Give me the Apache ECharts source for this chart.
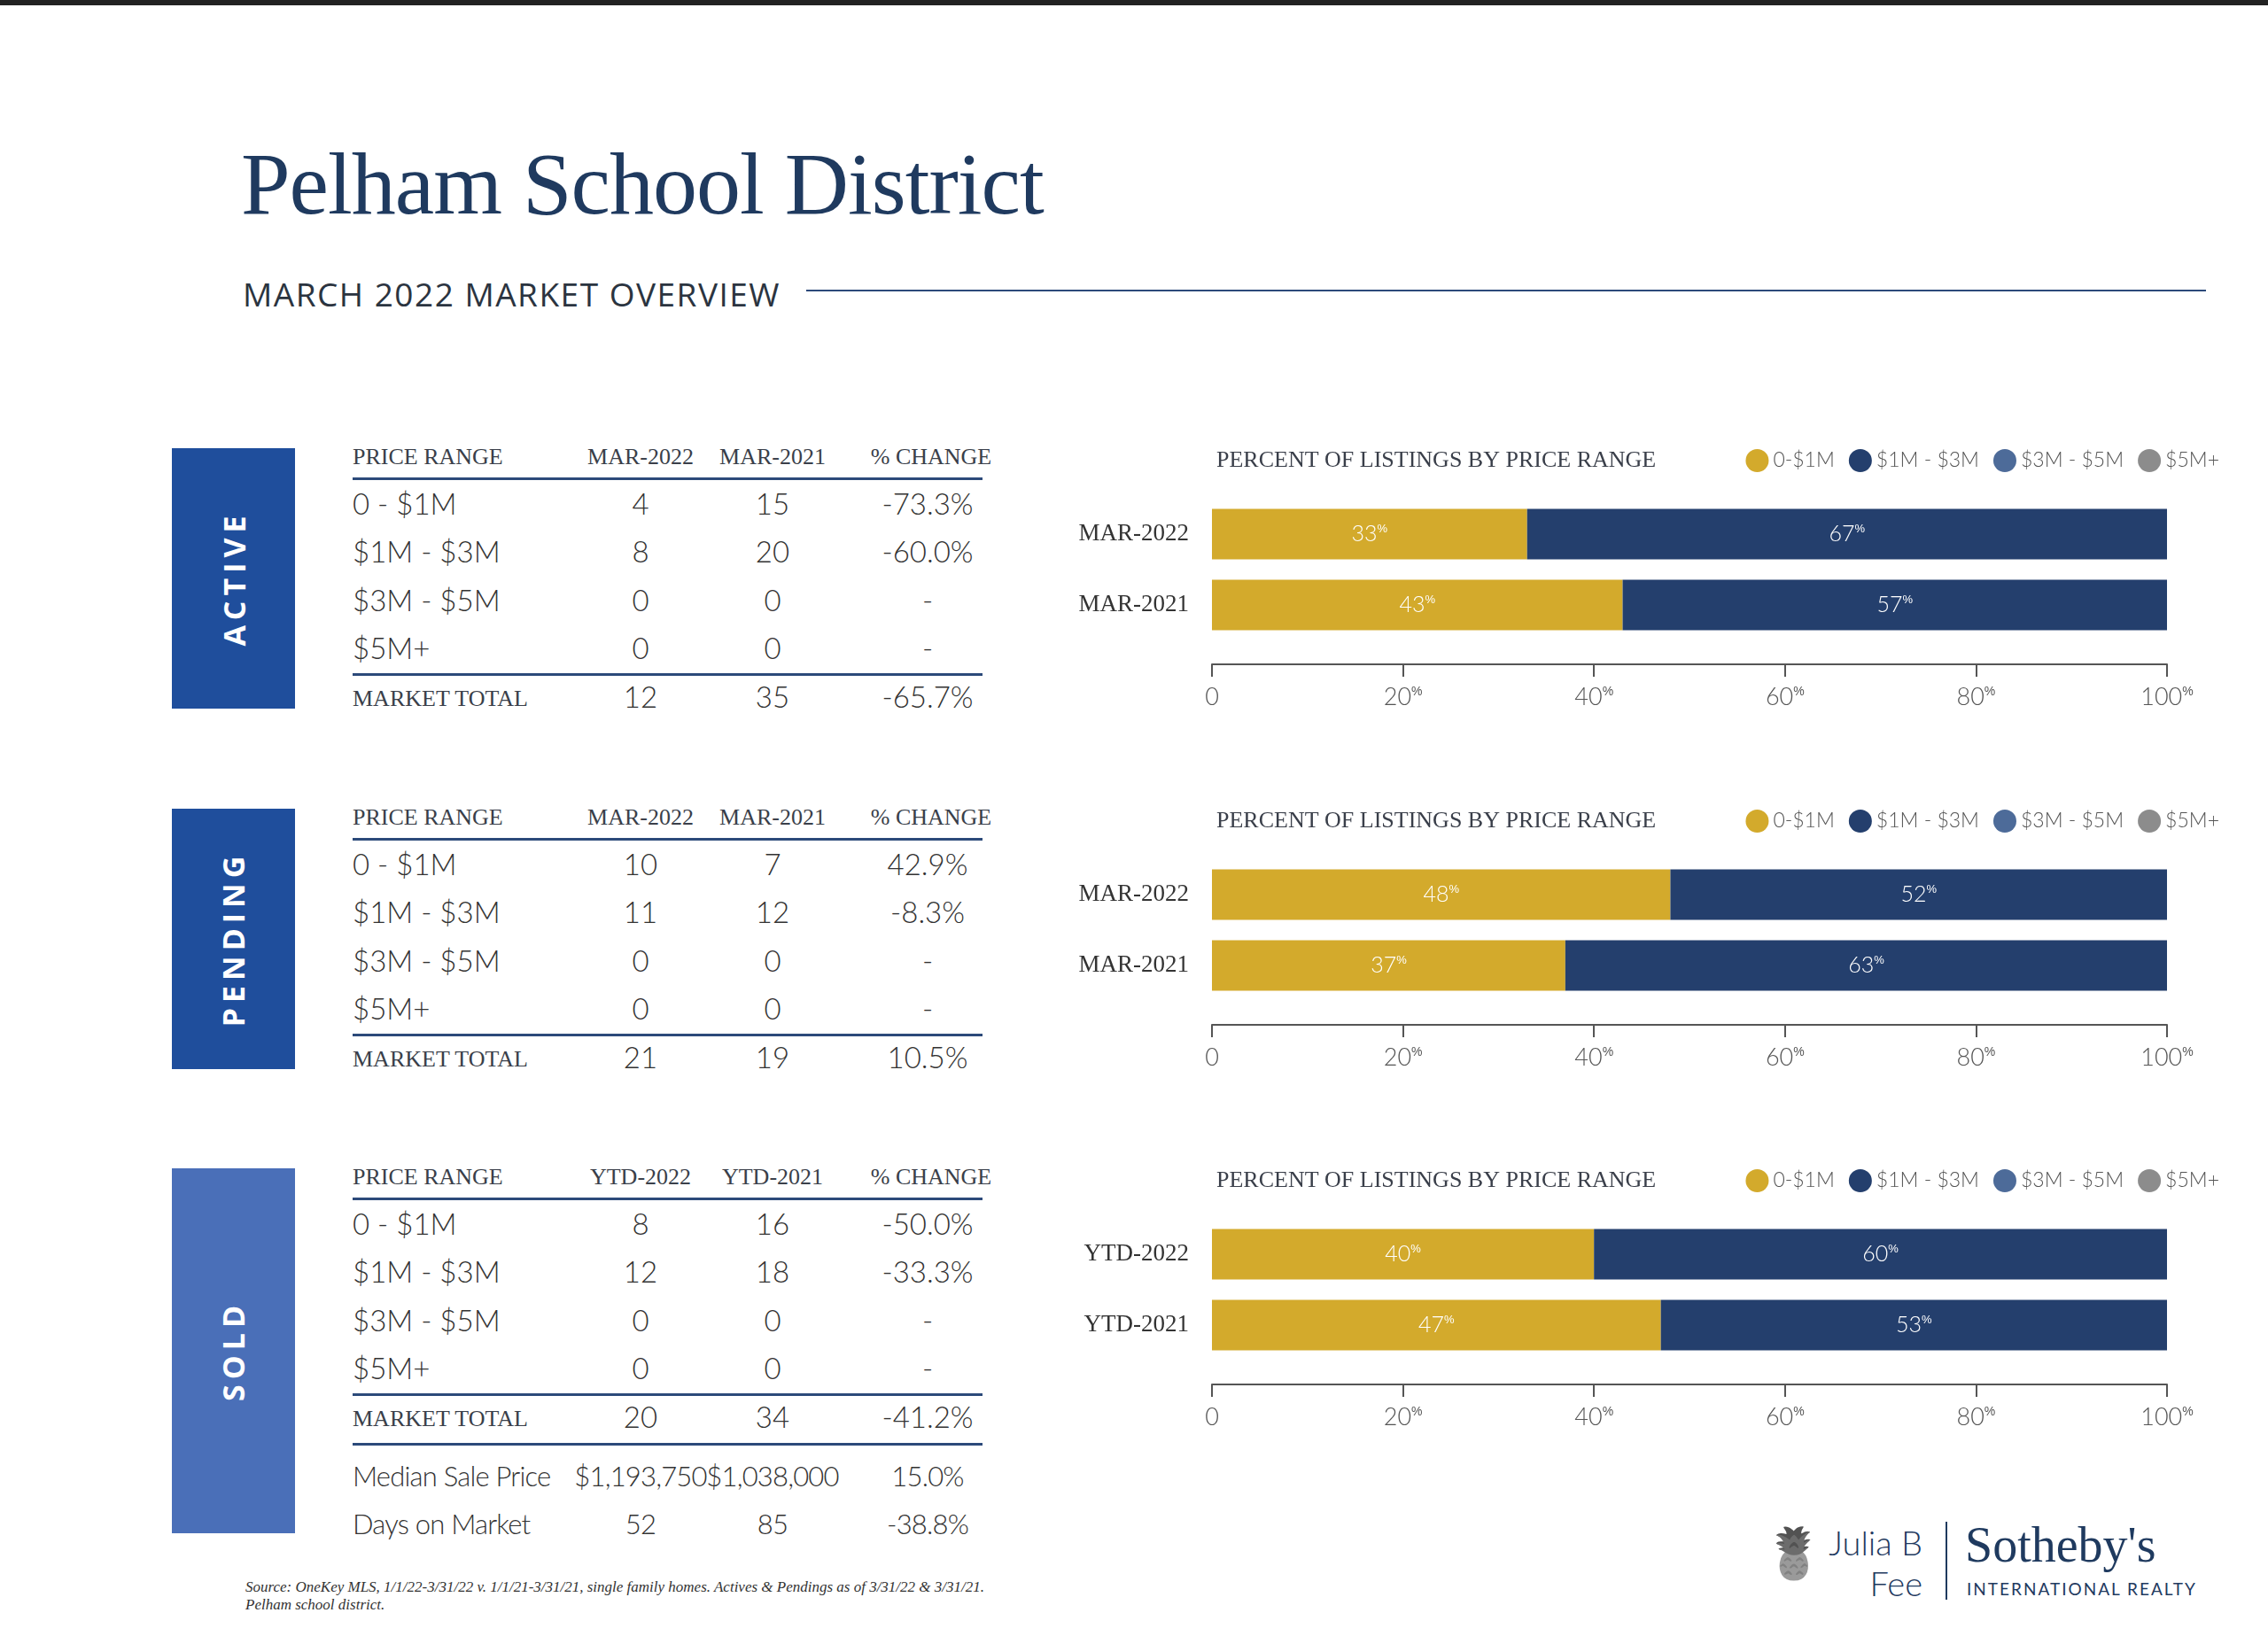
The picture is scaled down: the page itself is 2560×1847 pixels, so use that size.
<!DOCTYPE html>
<html><head><meta charset="utf-8">
<script src="https://cdn.jsdelivr.net/npm/echarts@6/dist/echarts.min.js"></script>
<style>
body{margin:0;width:2560px;height:1847px;background:#fff;position:relative;overflow:hidden;font-family:Lato,sans-serif}
.abs{position:absolute;white-space:nowrap}
.serif{font-family:"Liberation Serif","DejaVu Serif",serif}
.side{position:absolute;left:194px;width:139px;display:flex;align-items:center;justify-content:center}
.side span{transform:rotate(-90deg);color:#fff;font:700 34px "Open Sans",sans-serif;letter-spacing:6px}
.hd{font-family:"Liberation Serif",serif;font-size:26px;color:#3a3f4a;letter-spacing:0px}
.cell{font-weight:300;font-size:33px;color:#333}
.ex{font-weight:300;font-size:31px;color:#333;letter-spacing:-0.8px}
.rule{position:absolute;left:398px;width:711px;height:3px;background:#2c4a7a}
.chart{position:absolute;left:1200px;width:1340px;height:320px}
</style></head><body>
<div class="abs" style="left:0;top:0;width:2560px;height:6px;background:#222"></div>
<div class="abs serif" style="left:272px;top:150px;font-size:100px;color:#1f3a5f;letter-spacing:-1px">Pelham School District</div>
<div class="abs" style="left:274px;top:306px;font-size:37px;color:#2b3440;letter-spacing:1.5px;font-family:'Open Sans',sans-serif">MARCH 2022 MARKET OVERVIEW</div>
<div class="abs" style="left:910px;top:327px;width:1580px;height:2px;background:#2c4a7a"></div>
<div class="abs serif" style="left:277px;top:1782px;font-size:17px;font-style:italic;color:#333;line-height:20px">Source: OneKey MLS, 1/1/22-3/31/22 v. 1/1/21-3/31/21, single family homes. Actives &amp; Pendings as of 3/31/22 &amp; 3/31/21.<br>Pelham school district.</div>
<div class="abs" style="left:1990px;top:1718px;font-size:56px;filter:grayscale(1) brightness(0.8)">&#x1F34D;</div>
<div class="abs" style="left:2050px;top:1718px;font-size:38px;color:#1f3a5f;font-weight:300;text-align:right;line-height:46px;width:120px">Julia B<br>Fee</div>
<div class="abs" style="left:2196px;top:1718px;width:2px;height:88px;background:#1f3a5f"></div>
<div class="abs serif" style="left:2218px;top:1712px;font-size:56px;color:#1f3a5f">Sotheby's</div>
<div class="abs" style="left:2220px;top:1782px;font-size:19px;color:#1f3a5f;letter-spacing:2px">INTERNATIONAL REALTY</div>
<div id="root"></div>
<script>
const priceRanges = ['0 - $1M', '$1M - $3M', '$3M - $5M', '$5M+'];
const legendNames = ['0-$1M', '$1M - $3M', '$3M - $5M', '$5M+'];
const colors = ['#d3aa2c', '#243f6d', '#4d6b99', '#8c8c8c'];

const activeCols = ['MAR-2022', 'MAR-2021'];
const activeCur = [4, 8, 0, 0], activePrev = [15, 20, 0, 0];
const activeChg = ['-73.3%', '-60.0%', '-', '-'];
const activeTotal = ['12', '35', '-65.7%'];
const activePct = { cats: ['MAR-2022', 'MAR-2021'], low: [33, 43], mid: [67, 57], high: [0, 0], top: [0, 0] };

const pendingCols = ['MAR-2022', 'MAR-2021'];
const pendingCur = [10, 11, 0, 0], pendingPrev = [7, 12, 0, 0];
const pendingChg = ['42.9%', '-8.3%', '-', '-'];
const pendingTotal = ['21', '19', '10.5%'];
const pendingPct = { cats: ['MAR-2022', 'MAR-2021'], low: [48, 37], mid: [52, 63], high: [0, 0], top: [0, 0] };

const soldCols = ['YTD-2022', 'YTD-2021'];
const soldCur = [8, 12, 0, 0], soldPrev = [16, 18, 0, 0];
const soldChg = ['-50.0%', '-33.3%', '-', '-'];
const soldTotal = ['20', '34', '-41.2%'];
const soldExtra = [['Median Sale Price', '$1,193,750', '$1,038,000', '15.0%'], ['Days on Market', '52', '85', '-38.8%']];
const soldPct = { cats: ['YTD-2022', 'YTD-2021'], low: [40, 47], mid: [60, 53], high: [0, 0], top: [0, 0] };

const sections = [
  { name: 'ACTIVE', off: 0, h: 294, box: '#1f4e9c', cols: activeCols, cur: activeCur, prev: activePrev, chg: activeChg, total: activeTotal, pct: activePct },
  { name: 'PENDING', off: 407, h: 294, box: '#1f4e9c', cols: pendingCols, cur: pendingCur, prev: pendingPrev, chg: pendingChg, total: pendingTotal, pct: pendingPct },
  { name: 'SOLD', off: 813, h: 412, box: '#4a6fb8', cols: soldCols, cur: soldCur, prev: soldPrev, chg: soldChg, total: soldTotal, pct: soldPct, extra: soldExtra }
];

const root = document.getElementById('root');
function put(html, cls, left, top, align) {
  const d = document.createElement('div');
  d.className = 'abs ' + cls;
  d.innerHTML = html;
  d.style.top = top + 'px';
  if (align === 'c') { d.style.left = (left - 150) + 'px'; d.style.width = '300px'; d.style.textAlign = 'center'; }
  else d.style.left = left + 'px';
  root.appendChild(d);
}
const colX = [723, 872, 1047];

sections.forEach(s => {
  const y0 = 506 + s.off;
  const box = document.createElement('div');
  box.className = 'side'; box.style.top = y0 + 'px'; box.style.height = s.h + 'px'; box.style.background = s.box;
  box.innerHTML = '<span>' + s.name + '</span>';
  root.appendChild(box);

  put('PRICE RANGE', 'hd', 398, y0 - 5);
  put(s.cols[0], 'hd', colX[0], y0 - 5, 'c');
  put(s.cols[1], 'hd', colX[1], y0 - 5, 'c');
  put('% CHANGE', 'hd', colX[2] + 4, y0 - 5, 'c');
  let r = document.createElement('div'); r.className = 'rule'; r.style.top = (y0 + 33) + 'px'; root.appendChild(r);
  priceRanges.forEach((p, i) => {
    const y = y0 + 42 + i * 54.4;
    put(p, 'cell', 398, y);
    put(s.cur[i], 'cell', colX[0], y, 'c');
    put(s.prev[i], 'cell', colX[1], y, 'c');
    put(s.chg[i], 'cell', colX[2], y, 'c');
  });
  r = document.createElement('div'); r.className = 'rule'; r.style.top = (y0 + 254) + 'px'; root.appendChild(r);
  const ty = y0 + 260;
  put('MARKET TOTAL', 'hd', 398, ty + 8);
  s.total.forEach((t, i) => put(t, 'cell', colX[i], ty, 'c'));
  if (s.extra) {
    r = document.createElement('div'); r.className = 'rule'; r.style.top = (y0 + 310) + 'px'; root.appendChild(r);
    s.extra.forEach((row, k) => {
      const y = y0 + 328 + k * 54;
      put(row[0], 'ex', 398, y);
      row.slice(1).forEach((t, i) => put(t, 'ex', colX[i], y, 'c'));
    });
  }

  const div = document.createElement('div');
  div.className = 'chart'; div.style.top = (490 + s.off) + 'px';
  root.appendChild(div);
  const chart = echarts.init(div);
  const pctLabel = {
    show: true, color: '#fff',
    formatter: p => p.value > 0 ? '{n|' + p.value + '}{s|%}' : '',
    rich: { n: { fontSize: 25, color: '#fff', fontFamily: 'Lato', fontWeight: 300 }, s: { fontSize: 13, color: '#fff', verticalAlign: 'top', padding: [0, 0, 10, 0] } }
  };
  const data = [s.pct.low, s.pct.mid, s.pct.high, s.pct.top];
  chart.setOption({
    animation: false,
    title: { text: 'PERCENT OF LISTINGS BY PRICE RANGE', left: 168, top: 12,
      textStyle: { fontFamily: 'Liberation Serif', fontWeight: 'normal', fontSize: 26, color: '#3a3f4a' } },
    legend: { right: 30, top: 12, icon: 'circle', itemWidth: 26, itemHeight: 26, itemGap: 16,
      textStyle: { fontFamily: 'Lato', fontWeight: 300, fontSize: 23, color: '#555' }, data: legendNames },
    grid: { left: 168, right: 94, top: 73, height: 160 },
    xAxis: { type: 'value', min: 0, max: 100, interval: 20, offset: 27,
      axisLine: { show: true, lineStyle: { color: '#555', width: 2 } },
      axisTick: { show: true, length: 14, lineStyle: { color: '#555', width: 2 } },
      splitLine: { show: false },
      axisLabel: { margin: 24, formatter: v => v === 0 ? '{n|0}' : '{n|' + v + '}{s|%}',
        rich: { n: { fontSize: 27, color: '#555', fontFamily: 'Lato', fontWeight: 300 }, s: { fontSize: 14, color: '#555', verticalAlign: 'top', padding: [0, 0, 10, 0] } } } },
    yAxis: { type: 'category', inverse: true, data: s.pct.cats,
      axisLine: { show: false }, axisTick: { show: false },
      axisLabel: { margin: 26, fontFamily: 'Liberation Serif', fontSize: 27, color: '#333' } },
    series: legendNames.map((n, i) => ({
      name: n, type: 'bar', stack: 'p', barWidth: 57, data: data[i],
      itemStyle: { color: colors[i] }, label: pctLabel
    }))
  });
});
</script>
</body></html>
